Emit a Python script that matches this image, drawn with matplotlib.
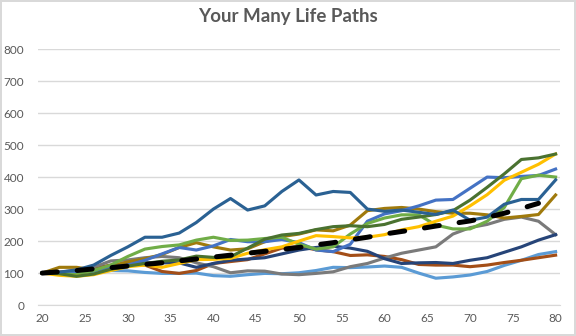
import matplotlib
matplotlib.use("Agg")
import matplotlib.pyplot as plt

plt.rcParams["font.family"] = ["Lato", "DejaVu Sans"]

ages = list(range(20, 81, 2))
mean_ages = list(range(20, 79, 2))

dark_blue = [100, 103, 110, 125, 155, 182, 212, 212, 225, 258, 300, 333, 297, 310, 355, 391,
             344, 355, 352, 300, 293, 297, 290, 283, 297, 265, 275, 315, 330, 330, 391]
mid_blue = [100, 102, 100, 108, 118, 125, 140, 160, 180, 172, 185, 205, 198, 198, 205, 195,
            172, 167, 190, 262, 285, 295, 310, 328, 330, 365, 400, 398, 402, 405, 425]
green = [100, 98, 95, 108, 125, 152, 175, 183, 188, 203, 212, 202, 203, 208, 212, 190,
         175, 182, 222, 255, 272, 282, 282, 250, 238, 238, 262, 305, 395, 406, 400]
dark_green = [100, 98, 90, 97, 112, 122, 130, 137, 141, 153, 149, 151, 178, 206, 219, 224,
              236, 245, 248, 245, 252, 268, 275, 283, 295, 328, 368, 410, 455, 460, 472]
gold = [100, 93, 90, 95, 108, 120, 125, 118, 130, 142, 143, 146, 162, 173, 182, 200,
        217, 214, 210, 212, 220, 235, 245, 262, 278, 310, 345, 390, 415, 440, 472]
dark_gold = [100, 118, 118, 110, 122, 135, 145, 158, 180, 195, 182, 172, 176, 198, 214, 222,
             235, 232, 250, 295, 302, 305, 300, 292, 287, 287, 282, 272, 277, 283, 344]
gray = [100, 102, 105, 118, 138, 141, 148, 152, 148, 132, 120, 101, 107, 106, 97, 95,
        99, 104, 120, 130, 147, 162, 172, 182, 222, 242, 252, 268, 275, 262, 220]
navy = [100, 100, 98, 110, 118, 125, 132, 132, 132, 118, 130, 140, 144, 148, 160, 172,
        180, 184, 178, 168, 145, 130, 132, 133, 130, 140, 148, 165, 182, 203, 220]
brown = [100, 103, 108, 115, 125, 130, 125, 105, 99, 108, 130, 136, 142, 160, 178, 183,
         173, 167, 155, 157, 152, 142, 127, 125, 125, 120, 125, 133, 140, 148, 156]
light_blue = [100, 102, 103, 105, 108, 107, 102, 99, 99, 100, 92, 90, 95, 99, 98, 101,
              108, 118, 117, 119, 122, 118, 100, 84, 88, 94, 105, 124, 140, 158, 167]
mean_path = [100, 104, 108, 113, 117, 122, 127, 132, 138, 144, 150, 156, 162, 168, 174, 180,
             188, 195, 204, 212, 222, 230, 238, 247, 255, 263, 274, 287, 302, 318]

paths = [
    (light_blue, "#5B9BD5"),
    (brown, "#A34E17"),
    (gray, "#7A7A7A"),
    (navy, "#264478"),
    (dark_gold, "#A07A0C"),
    (mid_blue, "#4472C4"),
    (green, "#70AD47"),
    (gold, "#FFC000"),
    (dark_green, "#4A7230"),
    (dark_blue, "#2A6193"),
]

fig = plt.figure(figsize=(5.76, 3.36), dpi=100)
fig.patch.set_edgecolor("#D9D9D9")
fig.patch.set_linewidth(1.5)
ax = fig.add_axes([0.066, 0.092, 0.906, 0.762])

for vals, col in paths:
    ax.plot(ages, vals, color=col, lw=2.25, solid_joinstyle="round")

ax.plot(mean_ages, mean_path, color="black", lw=3.6, dashes=(3.0, 4.0),
        dash_capstyle="round")

ax.set_xlim(19.5, 80.5)
ax.set_ylim(0, 800)
ax.set_xticks(range(20, 81, 5))
ax.set_yticks(range(0, 801, 100))
ax.grid(axis="y", color="#D9D9D9", lw=1)
ax.set_axisbelow(True)
for s in ["top", "right", "left"]:
    ax.spines[s].set_visible(False)
ax.spines["bottom"].set_color("#D9D9D9")
ax.tick_params(length=0, labelsize=8.5, colors="#595959", pad=6)
ax.tick_params(axis="y", pad=10)

fig.suptitle("Your Many Life Paths", x=0.5, y=0.975, fontsize=13.5,
             fontweight="bold", color="#595959")

fig.savefig("out.png", dpi=100, edgecolor=fig.get_edgecolor())
